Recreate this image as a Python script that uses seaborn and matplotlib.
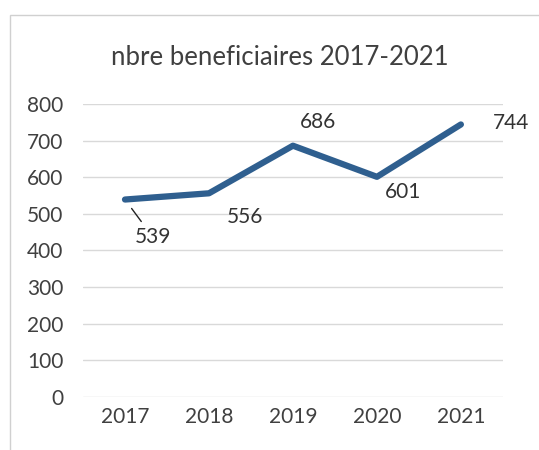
import matplotlib
matplotlib.use("Agg")
import matplotlib.pyplot as plt
import seaborn as sns
import pandas as pd
from matplotlib.patches import Rectangle

# data
years = ["2017", "2018", "2019", "2020", "2021"]
beneficiaires = [539, 556, 686, 601, 744]
# label offsets (points) relative to each point
label_dx = [20, 26, 18, 19, 36]
label_dy = [-27, -17, 17, -11, 1]

df = pd.DataFrame({"annee": years, "nbre": beneficiaires})

sns.set_theme(style="white")
plt.rcParams["font.family"] = ["Lato", "DejaVu Sans"]

fig = plt.figure(figsize=(5.39, 4.5), dpi=100)
ax = fig.add_axes([0.154, 0.118, 0.779, 0.651])

# chart border like the Excel frame (runs off right and bottom edges)
fig.patches.append(Rectangle((10 / 539, -0.05), 1.2, 1.05 - 15 / 450,
                             transform=fig.transFigure, fill=False,
                             edgecolor="#d0d0d0", lw=1))

sns.lineplot(data=df, x="annee", y="nbre", ax=ax, color="#2f5f8f",
             linewidth=4.5, sort=False, solid_capstyle="round")

ax.set_ylim(0, 800)
ax.set_xlim(-0.5, 4.5)
ax.set_yticks(range(0, 801, 100))
ax.yaxis.grid(True, color="#d9d9d9", lw=1)
ax.xaxis.grid(False)
for s in ax.spines.values():
    s.set_visible(False)
ax.tick_params(axis="both", length=0, labelsize=15, colors="#404040", pad=7)
ax.tick_params(axis="y", pad=14)
ax.set_xlabel("")
ax.set_ylabel("")

for i, v in enumerate(beneficiaires):
    kw = {}
    if i == 0:
        kw["arrowprops"] = dict(arrowstyle="-", color="#222222", lw=1,
                                shrinkA=2, shrinkB=8)
    ax.annotate(str(v), xy=(i, v), xytext=(label_dx[i], label_dy[i]),
                textcoords="offset points", ha="center", va="center",
                fontsize=15, color="#333333", **kw)

fig.text(0.52, 0.873, "nbre beneficiaires 2017-2021", ha="center",
         va="center", fontsize=18.5, color="#404040")

fig.savefig("out.png", dpi=100)
